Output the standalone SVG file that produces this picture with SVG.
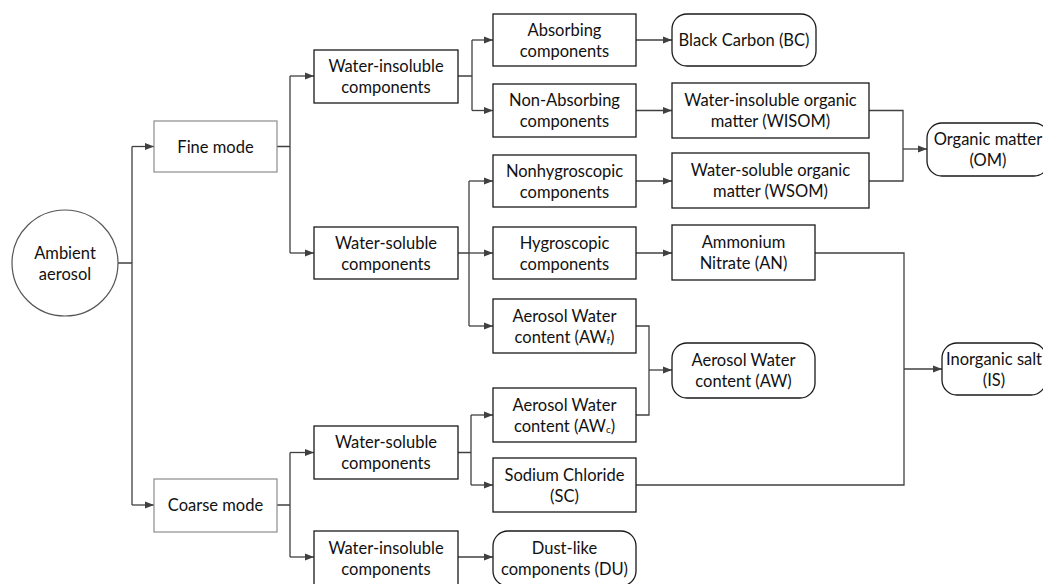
<svg xmlns="http://www.w3.org/2000/svg" width="1043" height="584" viewBox="0 0 1043 584">
<style>
  .box{fill:#fff;stroke:#1a1a1a;stroke-width:1.3}
  .lbox{fill:#fff;stroke:#8c8c8c;stroke-width:1.2}
  .circ{fill:#fff;stroke:#555;stroke-width:1.2}
  .t{font-family:Lato,"Liberation Sans",Arial,sans-serif;font-size:16.5px;fill:#111;text-anchor:middle;dominant-baseline:central}
  .sub{font-size:10px}
  .c{fill:none;stroke:#404040;stroke-width:1.3}
  .a{fill:none;stroke:#404040;stroke-width:1.3;marker-end:url(#arr)}
</style>
<defs>
  <marker id="arr" markerUnits="userSpaceOnUse" markerWidth="10" markerHeight="8" refX="9" refY="4" orient="auto">
    <path d="M0,0.5 L9,4 L0,7.5 z" fill="#404040"/>
  </marker>
</defs>
<rect width="1043" height="584" fill="#fff"/>

<g id="connectors">
  <path class="c" d="M118,263 H132 M132,146.5 V505"/>
  <path class="a" d="M132,146.5 H154"/>
  <path class="a" d="M132,505 H154"/>
  <path class="c" d="M277,146.5 H290 M290,76 V253"/>
  <path class="a" d="M290,76 H314"/>
  <path class="a" d="M290,253 H314"/>
  <path class="c" d="M458,76 H472 M472,40 V110.5"/>
  <path class="a" d="M472,40 H493"/>
  <path class="a" d="M472,110.5 H493"/>
  <path class="c" d="M458,253 H469 M469,181 V326"/>
  <path class="a" d="M469,181 H493"/>
  <path class="a" d="M469,253 H493"/>
  <path class="a" d="M469,326 H493"/>
  <path class="a" d="M636,40 H672"/>
  <path class="a" d="M636,110.5 H672"/>
  <path class="a" d="M636,181 H672"/>
  <path class="a" d="M636,253 H672"/>
  <path class="c" d="M869,110.5 H903 V181 H869"/>
  <path class="a" d="M903,149 H927"/>
  <path class="c" d="M815,253 H904 V485 H636"/>
  <path class="a" d="M904,369 H942"/>
  <path class="c" d="M636,326 H649 V415 H636"/>
  <path class="a" d="M649,370 H672"/>
  <path class="c" d="M277,505 H290 M290,452.5 V557"/>
  <path class="a" d="M290,452.5 H314"/>
  <path class="a" d="M290,557 H314"/>
  <path class="c" d="M458,452.5 H471 M471,415 V485"/>
  <path class="a" d="M471,415 H493"/>
  <path class="a" d="M471,485 H493"/>
  <path class="a" d="M458,557 H493"/>
</g>

<g id="ambient">
  <circle class="circ" cx="65" cy="263" r="53"/>
  <text class="t" x="65" y="252.5">Ambient</text>
  <text class="t" x="65" y="273.5">aerosol</text>
</g>
<g id="fine">
  <rect class="lbox" x="154" y="121" width="123" height="51"/>
  <text class="t" x="215.5" y="146.5">Fine mode</text>
</g>
<g id="coarse">
  <rect class="lbox" x="154" y="479" width="123" height="53"/>
  <text class="t" x="215.5" y="505">Coarse mode</text>
</g>
<g id="wi-fine">
  <rect class="box" x="314" y="50" width="144" height="53"/>
  <text class="t" x="386" y="66">Water-insoluble</text>
  <text class="t" x="386" y="87">components</text>
</g>
<g id="ws-fine">
  <rect class="box" x="314" y="227" width="144" height="52"/>
  <text class="t" x="386" y="242.5">Water-soluble</text>
  <text class="t" x="386" y="263.5">components</text>
</g>
<g id="absorbing">
  <rect class="box" x="493" y="14" width="143" height="52"/>
  <text class="t" x="564.5" y="29.5">Absorbing</text>
  <text class="t" x="564.5" y="50.5">components</text>
</g>
<g id="nonabsorbing">
  <rect class="box" x="493" y="84" width="143" height="53"/>
  <text class="t" x="564.5" y="100">Non-Absorbing</text>
  <text class="t" x="564.5" y="121">components</text>
</g>
<g id="nonhygroscopic">
  <rect class="box" x="493" y="155" width="143" height="52"/>
  <text class="t" x="564.5" y="170.5">Nonhygroscopic</text>
  <text class="t" x="564.5" y="191.5">components</text>
</g>
<g id="hygroscopic">
  <rect class="box" x="493" y="227" width="143" height="52"/>
  <text class="t" x="564.5" y="242.5">Hygroscopic</text>
  <text class="t" x="564.5" y="263.5">components</text>
</g>
<g id="awf">
  <rect class="box" x="493" y="299" width="143" height="54"/>
  <text class="t" x="564.5" y="315.5">Aerosol Water</text>
  <text class="t" x="564.5" y="336.5">content (AW<tspan class="sub" dy="3">f</tspan><tspan dy="-3">)</tspan></text>
</g>
<g id="awc">
  <rect class="box" x="493" y="388" width="143" height="54"/>
  <text class="t" x="564.5" y="404.5">Aerosol Water</text>
  <text class="t" x="564.5" y="425.5">content (AW<tspan class="sub" dy="3">c</tspan><tspan dy="-3">)</tspan></text>
</g>
<g id="sc">
  <rect class="box" x="493" y="458" width="143" height="54"/>
  <text class="t" x="564.5" y="474.5">Sodium Chloride</text>
  <text class="t" x="564.5" y="495.5">(SC)</text>
</g>
<g id="du">
  <rect class="box" x="493" y="531" width="143" height="55" rx="15"/>
  <text class="t" x="564.5" y="547.5">Dust-like</text>
  <text class="t" x="564.5" y="568.5">components (DU)</text>
</g>
<g id="ws-coarse">
  <rect class="box" x="314" y="426" width="144" height="53"/>
  <text class="t" x="386" y="442">Water-soluble</text>
  <text class="t" x="386" y="463">components</text>
</g>
<g id="wi-coarse">
  <rect class="box" x="314" y="531" width="144" height="55"/>
  <text class="t" x="386" y="547.5">Water-insoluble</text>
  <text class="t" x="386" y="568.5">components</text>
</g>
<g id="bc">
  <rect class="box" x="672" y="14" width="144" height="52" rx="15"/>
  <text class="t" x="744" y="40">Black Carbon (BC)</text>
</g>
<g id="wisom">
  <rect class="box" x="672" y="83" width="197" height="55"/>
  <text class="t" x="770.5" y="100">Water-insoluble organic</text>
  <text class="t" x="770.5" y="121">matter (WISOM)</text>
</g>
<g id="wsom">
  <rect class="box" x="672" y="153" width="197" height="55"/>
  <text class="t" x="770.5" y="170">Water-soluble organic</text>
  <text class="t" x="770.5" y="191">matter (WSOM)</text>
</g>
<g id="an">
  <rect class="box" x="672" y="225" width="143" height="55"/>
  <text class="t" x="743.5" y="242">Ammonium</text>
  <text class="t" x="743.5" y="263">Nitrate (AN)</text>
</g>
<g id="aw">
  <rect class="box" x="672" y="343" width="143" height="55" rx="15"/>
  <text class="t" x="743.5" y="360">Aerosol Water</text>
  <text class="t" x="743.5" y="381">content (AW)</text>
</g>
<g id="om">
  <rect class="box" x="927" y="123" width="122" height="53" rx="15"/>
  <text class="t" x="988" y="138.5">Organic matter</text>
  <text class="t" x="988" y="159.5">(OM)</text>
</g>
<g id="is">
  <rect class="box" x="942" y="343" width="104" height="52" rx="15"/>
  <text class="t" x="994" y="358.5">Inorganic salt</text>
  <text class="t" x="994" y="379.5">(IS)</text>
</g>
</svg>
